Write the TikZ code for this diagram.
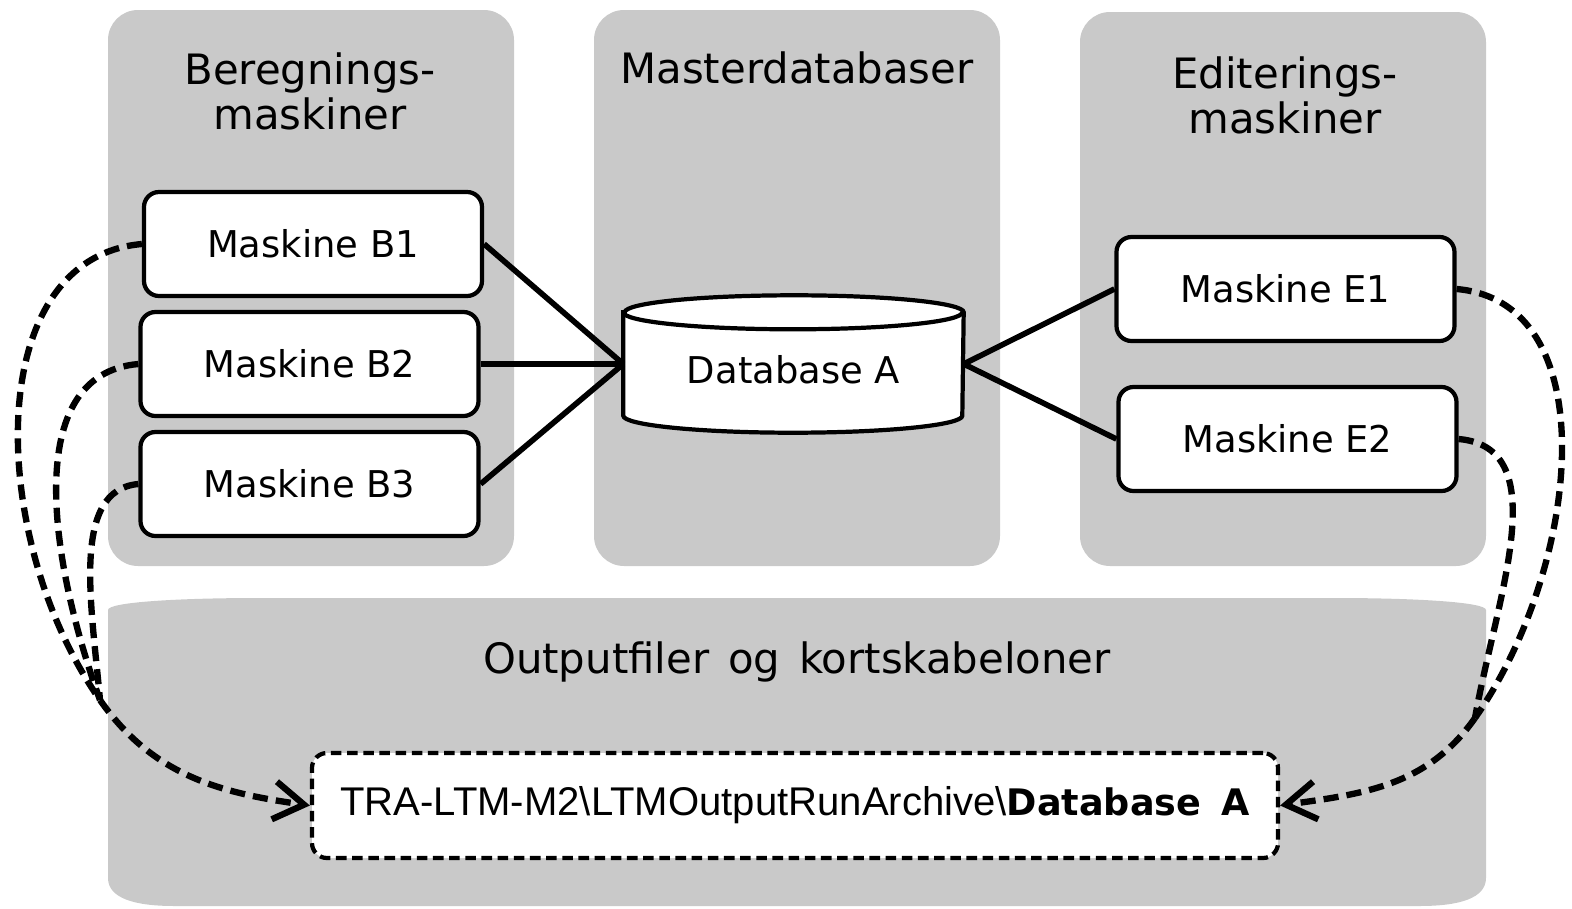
\documentclass[tikz,border=0pt]{standalone}
\usepackage{fontspec}
\setmainfont{DejaVu Sans}
\newfontfamily\pathfont{Liberation Sans}
\usetikzlibrary{arrows.meta}
\definecolor{panelgray}{RGB}{201,201,201}
\tikzset{
  panel/.style={fill=panelgray, rounded corners=0.3cm},
  title/.style={align=center, font=\fontsize{11.9}{12.8}\selectfont},
  maskine/.style={draw, line width=1.2pt, fill=white, rounded corners=0.15cm,
    minimum width=3.38cm, minimum height=1.04cm, font=\fontsize{10.5}{12}\selectfont},
  dbbody/.style={inner sep=0pt, minimum width=3.39cm, minimum height=1.02cm},
  dblabel/.style={font=\fontsize{10.5}{12}\selectfont},
  pathbox/.style={draw, line width=1.2pt, fill=white, rounded corners=0.15cm, dash pattern=on 3pt off 1.6pt,
    minimum width=9.66cm, minimum height=1.05cm, font=\fontsize{11.4}{12}\selectfont},
  link/.style={line width=1.6pt},
  copyline/.style={line width=1.8pt, dash pattern=on 4.3pt off 2.3pt},
  copyarrow/.style={copyline, -{Straight Barb[length=3mm,width=3.8mm]}}
}
% database can drawn round a named body node
\newcommand{\dbcan}[1]{
  \filldraw[fill=white, line width=1.2pt] (#1.north west) -- (#1.south west)
    arc[start angle=180, end angle=360, x radius=1.695cm, y radius=0.17cm] -- (#1.north east)
    arc[start angle=0, end angle=180, x radius=1.695cm, y radius=0.17cm] -- cycle;
  \draw[line width=1.2pt] (#1.north west) arc[start angle=180, end angle=360, x radius=1.695cm, y radius=0.17cm];}

\begin{document}
\begin{tikzpicture}
    \useasboundingbox (0,0) rectangle (15.72,9.08);
    % panels
    \fill[panel] (1.08,3.42) rectangle (5.14,8.98);
    \fill[panel] (5.94,3.42) rectangle (10.00,8.98);
    \fill[panel] (10.80,3.42) rectangle (14.86,8.96);
    \fill[panelgray] (1.08,0.30) -- (1.08,2.98) .. controls (1.08,3.06) and (1.8,3.10) .. (2.6,3.10)
        -- (13.34,3.10) .. controls (14.14,3.10) and (14.86,3.06) .. (14.86,2.98)
        -- (14.86,0.30) .. controls (14.86,0.10) and (14.6,0.02) .. (14.2,0.02)
        -- (1.74,0.02) .. controls (1.34,0.02) and (1.08,0.10) .. (1.08,0.30) -- cycle;
    % titles
    \node[title] (berTitle) at (3.10,8.17) {Beregnings-\\maskiner};
    \node[title] (masTitle) at (7.97,8.40) {Masterdatabaser};
    \node[title] (ediTitle) at (12.85,8.13) {Editerings-\\maskiner};
    \node[title] (outTitle) at (7.97,2.46) {Outputfiler\hspace{0.45em}og\hspace{0.45em}kortskabeloner};
    % machines
    \node[maskine] (B1) at (3.13,6.64) {Maskine B1};
    \node[maskine] (B2) at (3.095,5.44) {Maskine B2};
    \node[maskine] (B3) at (3.095,4.24) {Maskine B3};
    \node[maskine] (E1) at (12.855,6.19) {Maskine E1};
    \node[maskine] (E2) at (12.875,4.69) {Maskine E2};
    % master database
    \node[dbbody] (dbA) at (7.935,5.44) {};
    \dbcan{dbA}
    \node[dblabel] (dbLabel) at ([yshift=-0.06cm]dbA.center) {Database A};
    \node[pathbox] (archive) at (7.95,1.025)
        {{\pathfont TRA-LTM-M2\textbackslash LTMOutputRunArchive\textbackslash}\textbf{\fontsize{10.4}{12}\selectfont Database\hspace{0.55em}A}};
    % links
    \draw[link] (B1.east) -- (dbA.west);
    \draw[link] (B2.east) -- (dbA.west);
    \draw[link] (B3.east) -- (dbA.west);
    \draw[link] (dbA.east) -- (E1.west);
    \draw[link] (dbA.east) -- (E2.west);
    % copies to the archive
    \coordinate (mergeL) at (1.00,2.08);
    \coordinate (mergeR) at (14.75,1.90);
    \draw[copyline] (B1.west) to[out=185,in=125,out looseness=0.9,in looseness=1.1] (mergeL);
    \draw[copyline] (B2.west) to[out=185,in=110,out looseness=0.9,in looseness=1.1] (mergeL);
    \draw[copyline] (B3.west) to[out=185,in=95,out looseness=0.8,in looseness=1.1] (mergeL);
    \draw[copyarrow] (mergeL) to[out=-55,in=172] (archive.west);
    \draw[copyline] (E1.east) to[out=-5,in=55,out looseness=0.9,in looseness=1.1] (mergeR);
    \draw[copyline] (E2.east) to[out=-5,in=80,out looseness=0.9,in looseness=1.1] (mergeR);
    \draw[copyarrow] (mergeR) to[out=-125,in=8] (archive.east);
\end{tikzpicture}
\end{document}
